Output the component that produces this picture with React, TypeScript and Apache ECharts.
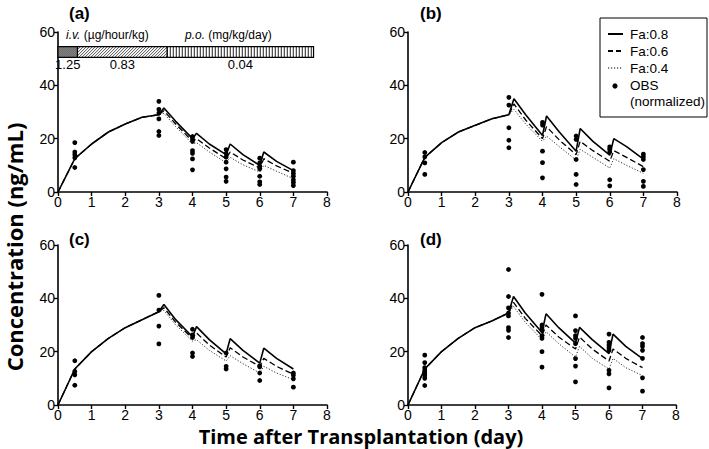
import React, { useEffect, useRef } from "react";
import * as echarts from "echarts";

// model time grid (day)
const timeModel = [0, 0.5, 1, 1.5, 2, 2.5, 3, 3.15, 3.5, 4, 4.12, 4.5, 5, 5.12, 5.5, 6, 6.12, 6.5, 7];

// i.v. phase (shared by all Fa) per panel
const ivA = [0, 12.5, 18, 22.5, 25.5, 28, 29];
const ivB = [0, 13, 18.5, 22.5, 25, 27.5, 29];
const ivC = [0, 13.5, 20, 25, 29, 32, 35];
const ivD = [0, 13.5, 20, 25, 29, 31.5, 34.5];

// p.o. phase per panel and Fa
const poA08 = [31.5, 26.5, 20, 22, 18, 14, 18, 14, 10, 15, 11.5, 8];
const poA06 = [30.5, 25.5, 19, 20, 16.5, 12.5, 15, 12, 9, 12.5, 9.8, 7];
const poA04 = [29.5, 24.5, 18, 18.5, 15, 11, 13, 10.2, 7.5, 10, 7.8, 5];

const poB08 = [35, 29, 21.2, 28.5, 22.5, 15.3, 23.8, 19, 13.8, 20, 17, 12.3];
const poB06 = [33, 27, 20, 24.5, 19.5, 14, 19, 15.5, 11.5, 15.5, 13, 9.5];
const poB04 = [31, 25.5, 19, 21, 17, 12, 16, 13, 9, 12.5, 10, 7];

const poC08 = [37.7, 32, 25.6, 29.4, 24.5, 19.2, 24.9, 20.5, 15.7, 21.3, 17.5, 13.5];
const poC06 = [36.5, 31, 25, 27, 22.5, 18, 21.5, 18, 14.5, 17.5, 14.5, 11.5];
const poC04 = [35.5, 30, 24, 24.5, 20.5, 16.5, 18.5, 15.5, 12, 14.5, 12, 9.5];

const poD08 = [40.7, 34.5, 27.2, 34.2, 29, 23.2, 29.1, 24.5, 19.3, 26.6, 22, 17.4];
const poD06 = [38.5, 32.5, 26, 30, 25.5, 21, 25.5, 21, 16.5, 21, 17.5, 14];
const poD04 = [37, 31, 24.5, 27.5, 23, 18, 22, 17.5, 13.5, 17.5, 14, 11];

// observed (normalized) [day, ng/mL]
const obsA = [
  [0.5, 18.5], [0.5, 15], [0.5, 14], [0.5, 12.8], [0.5, 9.2],
  [3, 34], [3, 31], [3, 29.6], [3, 27.4], [3, 22.7], [3, 21.2],
  [4, 20.8], [4, 19.9], [4, 19], [4, 15.5], [4, 14.5], [4, 12.4], [4, 8.3],
  [5, 15.9], [5, 14.4], [5, 13.1], [5, 11.2], [5, 8.7], [5, 5.6], [5, 4],
  [6, 12.7], [6, 10.9], [6, 9.6], [6, 8.7], [6, 5.9], [6, 3.8], [6, 2.8],
  [7, 11.2], [7, 8], [7, 6.9], [7, 5.9], [7, 4.6], [7, 3.6], [7, 2.4],
];
const obsB = [
  [0.5, 14.8], [0.5, 13.2], [0.5, 10.9], [0.5, 6.6],
  [3, 35.5], [3, 32.6], [3, 24.1], [3, 19.4], [3, 16.6],
  [4, 26.1], [4, 25.1], [4, 15.3], [4, 11], [4, 5.3],
  [5, 21], [5, 19.7], [5, 12.2], [5, 6.6], [5, 2.8],
  [6, 16.9], [6, 16], [6, 15], [6, 4.6], [6, 2.3],
  [7, 14.2], [7, 13.2], [7, 12.2], [7, 8.4], [7, 4], [7, 2.1],
];
const obsC = [
  [0.5, 16.6], [0.5, 12.6], [0.5, 11.3], [0.5, 7.4],
  [3, 41.1], [3, 35.6], [3, 29.6], [3, 22.9],
  [4, 28.4], [4, 26.3], [4, 25.3], [4, 19.5], [4, 18.2],
  [5, 19.5], [5, 14.5], [5, 13.5],
  [6, 14.7], [6, 14.3], [6, 12], [6, 9.2],
  [7, 12], [7, 11.2], [7, 9.8], [7, 6.7],
];
const obsD = [
  [0.5, 18.7], [0.5, 15.9], [0.5, 14], [0.5, 13], [0.5, 12.4], [0.5, 11.8], [0.5, 11], [0.5, 10], [0.5, 7.3],
  [3, 50.8], [3, 40.7], [3, 36.4], [3, 34.5], [3, 33.4], [3, 29], [3, 28], [3, 25.3],
  [4, 41.5], [4, 30], [4, 29], [4, 28], [4, 26], [4, 25], [4, 20], [4, 14.2],
  [5, 33.4], [5, 27.9], [5, 26], [5, 25], [5, 23], [5, 17.4], [5, 14.6], [5, 8.7],
  [6, 26.6], [6, 23.5], [6, 22.5], [6, 21.5], [6, 20.5], [6, 13], [6, 11.7], [6, 6.4],
  [7, 25.3], [7, 23], [7, 22], [7, 20.5], [7, 17.5], [7, 10.2], [7, 5.2],
];

// dosing regimen (panel a)
const doseStart = [0, 0.58, 3.25];
const doseEnd = [0.58, 3.25, 7.6];
const doseRate = ["1.25", "0.83", "0.04"];
const doseBand = [50.5, 54.5];

const xTicks = { min: 0, max: 8, interval: 1 };
const yTicks = { min: 0, max: 60, interval: 20 };
const panelLabels = ["(a)", "(b)", "(c)", "(d)"];
const legendNames = ["Fa:0.8", "Fa:0.6", "Fa:0.4", "OBS", "(normalized)"];

const grids = [
  { left: 58, top: 32, width: 269, height: 160 },
  { left: 408, top: 32, width: 269, height: 160 },
  { left: 58, top: 245, width: 269, height: 160 },
  { left: 408, top: 245, width: 268, height: 160 },
];

const FONT = "Liberation Sans, Arial, sans-serif";

function zip(xs: number[], ys: number[]) {
  return xs.map((x, i) => [x, ys[i]]);
}

export default function App() {
  const ref = useRef<HTMLDivElement>(null);
  useEffect(() => {
    document.body.style.margin = "0";
    if (!ref.current) return;
    const chart = echarts.init(ref.current, null, { renderer: "svg" });

    const panels = [
      { iv: ivA, s: poA08, d: poA06, o: poA04, obs: obsA },
      { iv: ivB, s: poB08, d: poB06, o: poB04, obs: obsB },
      { iv: ivC, s: poC08, d: poC06, o: poC04, obs: obsC },
      { iv: ivD, s: poD08, d: poD06, o: poD04, obs: obsD },
    ];

    const axisLine = { show: true, lineStyle: { color: "#000", width: 1.6 } };
    const axisTick = { show: true, length: 4, lineStyle: { color: "#000", width: 1.4 } };
    const axisLabel = { color: "#000", fontSize: 14, fontFamily: FONT, margin: 3 };

    const series: any[] = [];
    panels.forEach((p, i) => {
      const common = {
        xAxisIndex: i,
        yAxisIndex: i,
        showSymbol: false,
        symbol: "none",
        smooth: false,
        silent: true,
      };
      series.push({ ...common, type: "line", name: "Fa:0.4", data: zip(timeModel, [...p.iv, ...p.o]), lineStyle: { color: "#333", width: 1, type: [1.2, 1.8] }, z: 2 });
      series.push({ ...common, type: "line", name: "Fa:0.6", data: zip(timeModel, [...p.iv, ...p.d]), lineStyle: { color: "#000", width: 1.3, type: [6, 3] }, z: 3 });
      series.push({ ...common, type: "line", name: "Fa:0.8", data: zip(timeModel, [...p.iv, ...p.s]), lineStyle: { color: "#000", width: 1.6 }, z: 4 });
      series.push({
        type: "scatter",
        xAxisIndex: i,
        yAxisIndex: i,
        data: p.obs,
        symbol: "circle",
        symbolSize: 4.8,
        itemStyle: { color: "#000", opacity: 1 },
        silent: true,
        z: 5,
      });
    });

    series.push({
      type: "custom",
      xAxisIndex: 0,
      yAxisIndex: 0,
      silent: true,
      clip: false,
      z: 6,
      data: doseStart.map((s, i) => [s, doseEnd[i], i]),
      renderItem: (params: any, api: any) => {
        const s = api.value(0);
        const e = api.value(1);
        const idx = api.value(2);
        const p0 = api.coord([s, doseBand[1]]);
        const p1 = api.coord([e, doseBand[0]]);
        const x0 = p0[0], y0 = p0[1], x1 = p1[0], y1 = p1[1];
        const w = x1 - x0, h = y1 - y0;
        const children: any[] = [];
        children.push({ type: "rect", shape: { x: x0, y: y0, width: w, height: h }, style: { fill: idx === 0 ? "#8c8c8c" : "#fff" } });
        const ls = { stroke: "#222", lineWidth: 0.8 };
        if (idx === 0) {
          for (let k = -h; k < w; k += 2) {
            const t0 = Math.max(0, -k), t1 = Math.min(h, w - k);
            if (t1 > t0) children.push({ type: "line", shape: { x1: x0 + k + t0, y1: y1 - t0, x2: x0 + k + t1, y2: y1 - t1 }, style: { stroke: "#444", lineWidth: 0.6 } });
          }
        } else if (idx === 1) {
          for (let k = -h; k < w; k += 3) {
            const t0 = Math.max(0, -k), t1 = Math.min(h, w - k);
            if (t1 > t0) children.push({ type: "line", shape: { x1: x0 + k + t0, y1: y1 - t0, x2: x0 + k + t1, y2: y1 - t1 }, style: ls });
          }
        } else {
          for (let x = x0 + 3; x < x1; x += 3) {
            children.push({ type: "line", shape: { x1: x, y1: y0, x2: x, y2: y1 }, style: { stroke: "#222", lineWidth: 1 } });
          }
        }
        children.push({ type: "rect", shape: { x: x0, y: y0, width: w, height: h }, style: { fill: "none", stroke: "#000", lineWidth: 1.2 } });
        children.push({
          type: "text",
          x: (x0 + x1) / 2,
          y: y1 + 0.5,
          style: { text: doseRate[idx], fill: "#000", font: `13px ${FONT}`, textAlign: "center", textVerticalAlign: "top" },
        });
        return { type: "group", children };
      },
    });

    const panelLabelPos = [[69, 13], [420, 13], [69, 239], [420, 239]];
    const lx = 600, ly = 18;
    const graphic: any[] = [
      ...panelLabels.map((t, i) => ({
        type: "text",
        x: panelLabelPos[i][0],
        y: panelLabelPos[i][1],
        style: { text: t, fill: "#000", font: `bold 17px ${FONT}`, textAlign: "left", textVerticalAlign: "middle" },
      })),
      {
        type: "text",
        x: 66,
        y: 35,
        style: {
          text: "{i|i.v.} (µg/hour/kg)",
          fill: "#000",
          font: `12px ${FONT}`,
          textVerticalAlign: "middle",
          rich: { i: { fontStyle: "italic", fontSize: 12, fontFamily: FONT } },
        },
      },
      {
        type: "text",
        x: 185,
        y: 35,
        style: {
          text: "{i|p.o.} (mg/kg/day)",
          fill: "#000",
          font: `12px ${FONT}`,
          textVerticalAlign: "middle",
          rich: { i: { fontStyle: "italic", fontSize: 12, fontFamily: FONT } },
        },
      },
      { type: "rect", shape: { x: lx, y: ly, width: 107, height: 99 }, style: { fill: "#fff", stroke: "#000", lineWidth: 1 }, z: 10 },
      { type: "line", shape: { x1: 608, y1: 34, x2: 623, y2: 34 }, style: { stroke: "#000", lineWidth: 2 }, z: 11 },
      { type: "line", shape: { x1: 608, y1: 51, x2: 623, y2: 51 }, style: { stroke: "#000", lineWidth: 2, lineDash: [5, 3] }, z: 11 },
      { type: "line", shape: { x1: 608, y1: 68, x2: 623, y2: 68 }, style: { stroke: "#000", lineWidth: 1.2, lineDash: [1.2, 1.8] }, z: 11 },
      { type: "circle", shape: { cx: 615, cy: 86, r: 2.6 }, style: { fill: "#000" }, z: 11 },
      ...legendNames.map((t, i) => ({
        type: "text",
        x: 630,
        y: [34, 51, 68, 85, 101][i],
        z: 11,
        style: { text: t, fill: "#000", font: `13.5px ${FONT}`, textVerticalAlign: "middle" },
      })),
      {
        type: "text",
        x: 14,
        y: 247,
        rotation: Math.PI / 2,
        style: { text: "Concentration (ng/mL)", fill: "#000", font: `bold 22px Open Sans`, textAlign: "center", textVerticalAlign: "middle" },
      },
      {
        type: "text",
        x: 361,
        y: 436,
        style: { text: "Time after Transplantation (day)", fill: "#000", font: `bold 20px Open Sans`, textAlign: "center", textVerticalAlign: "middle" },
      },
    ];

    chart.setOption({
      animation: false,
      backgroundColor: "#fff",
      grid: grids.map((g) => ({ ...g, containLabel: false })),
      xAxis: grids.map((_, i) => ({
        gridIndex: i,
        type: "value",
        ...xTicks,
        axisLine,
        axisTick,
        axisLabel,
        splitLine: { show: false },
      })),
      yAxis: grids.map((_, i) => ({
        gridIndex: i,
        type: "value",
        ...yTicks,
        axisLine,
        axisTick,
        axisLabel,
        splitLine: { show: false },
      })),
      series,
      graphic,
    });
    return () => chart.dispose();
  }, []);
  return <div ref={ref} style={{ width: 709, height: 449 }} />;
}
